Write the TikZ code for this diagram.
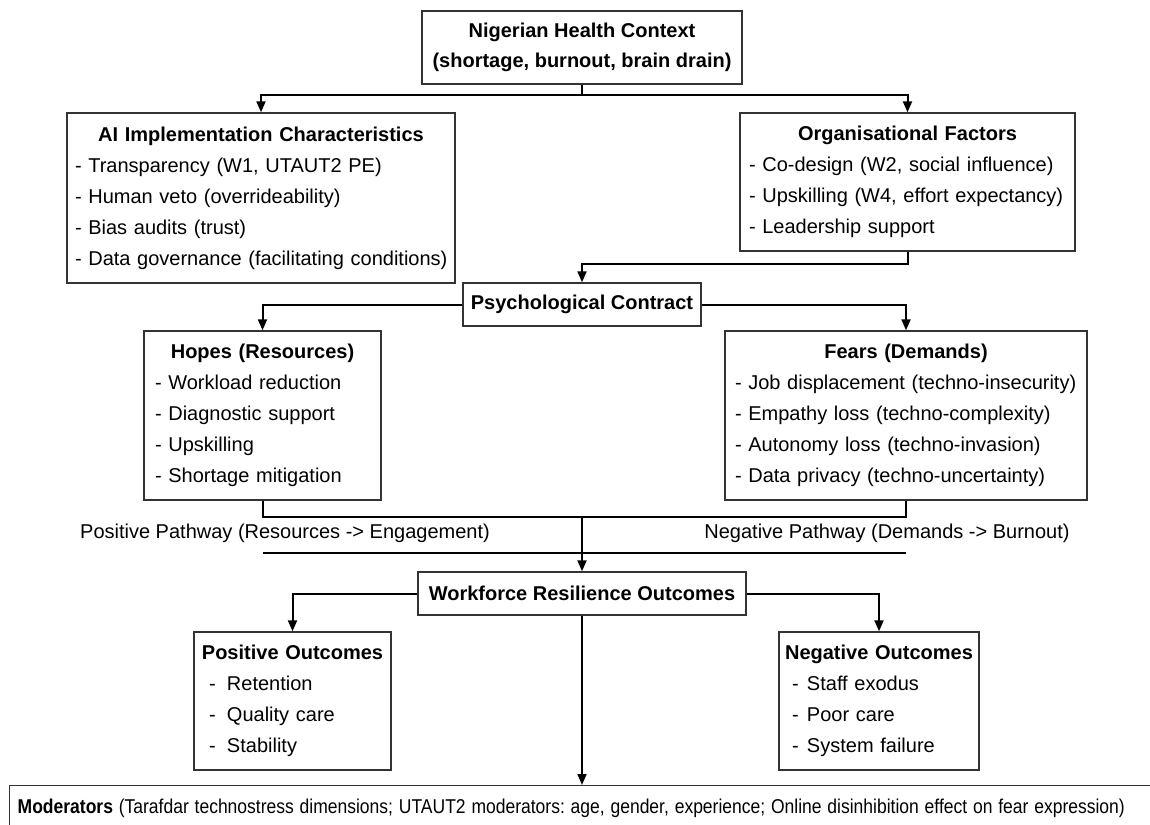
\documentclass[tikz,border=0pt]{standalone}
\usepackage{fontspec}
\setmainfont{Liberation Sans}
\usetikzlibrary{arrows.meta}
\newcommand\ttl[1]{\makebox[\hsize][c]{\textbf{#1}}\\}
\begin{document}
\frenchspacing
\begin{tikzpicture}[x=1pt,y=-1pt,
  txt/.style={font=\fontsize{20}{31}\selectfont},
  box/.style={draw=black!80, line width=1.4pt, inner sep=0pt, txt},
  lbox/.style={box, align=left},
  ln/.style={line width=2pt},
  arr/.style={line width=2pt, -{Triangle[length=11pt,width=9pt]}},
  lab/.style={txt, inner sep=0pt}]
\clip (0,0) rectangle (1150,824);
\fill[white] (0,0) rectangle (1150,824);

% boxes
\node[box, align=center, minimum width=320, minimum height=73, font=\fontsize{20}{30}\selectfont] (top) at (582,47.5)
  {\textbf{Nigerian Health Context}\\\textbf{(shortage, burnout, brain drain)}};

\node[lbox, text width=372, minimum width=388, minimum height=170] (ai) at (261,198)
  {\ttl{AI Implementation Characteristics}
   \mbox{- Transparency (W1, UTAUT2 PE)}\\
   \mbox{- Human veto (overrideability)}\\
   \mbox{- Bias audits (trust)}\\
   \mbox{- Data governance (facilitating conditions)}};

\node[lbox, text width=317, minimum width=335, minimum height=138] (org) at (907.5,182)
  {\ttl{Organisational Factors}
   \mbox{- Co-design (W2, social influence)}\\
   \mbox{- Upskilling (W4, effort expectancy)}\\
   \mbox{- Leadership support}};

\node[box, minimum width=238, minimum height=43] (psych) at (582,304.5)
  {\textbf{Psychological Contract}};

\node[lbox, text width=215, minimum width=237, minimum height=169] (hopes) at (262.5,415.5)
  {\ttl{Hopes (Resources)}
   \mbox{- Workload reduction}\\
   \mbox{- Diagnostic support}\\
   \mbox{- Upskilling}\\
   \mbox{- Shortage mitigation}};

\node[lbox, text width=342, minimum width=362, minimum height=169] (fears) at (906,415.5)
  {\ttl{Fears (Demands)}
   \mbox{- Job displacement (techno-insecurity)}\\
   \mbox{- Empathy loss (techno-complexity)}\\
   \mbox{- Autonomy loss (techno-invasion)}\\
   \mbox{- Data privacy (techno-uncertainty)}};

\node[lab] (lpos) at (285,533) {Positive Pathway (Resources -> Engagement)};
\node[lab] (lneg) at (887,533) {Negative Pathway (Demands -> Burnout)};

\node[box, minimum width=328, minimum height=43] (wf) at (582,593.5)
  {\textbf{Workforce Resilience Outcomes}};

\node[lbox, text width=167, minimum width=197, minimum height=138] (pos) at (292.5,701)
  {\ttl{Positive Outcomes}
   \makebox[18pt][l]{-}Retention\\
   \makebox[18pt][l]{-}Quality care\\
   \makebox[18pt][l]{-}Stability};

\node[lbox, text width=174, minimum width=200, minimum height=138] (neg) at (879,701)
  {\ttl{Negative Outcomes}
   \makebox[15pt][l]{-}Staff exodus\\
   \makebox[15pt][l]{-}Poor care\\
   \makebox[15pt][l]{-}System failure};

\node[box, anchor=north west, text width=1144, align=left, minimum width=1160, minimum height=45] (mod) at (9,785)
  {\scalebox{0.875}[1]{\textbf{Moderators} (Tarafdar technostress dimensions; UTAUT2 moderators: age, gender, experience; Online disinhibition effect on fear expression)}};

% connectors
\coordinate (s1) at (582,95);
\draw[ln] (top.south) -- (s1);
\draw[arr] (s1) -| (ai.north);
\draw[arr] (s1) -| (org.north);

\path (org.south) ++(0,12) coordinate (s2);
\draw[arr] (org.south) -- (s2) -| (psych.north);

\draw[arr] (psych.west) -| (hopes.north);
\draw[arr] (psych.east) -| (fears.north);

\coordinate (s3) at (582,517);
\draw[ln] (hopes.south) |- (s3);
\draw[ln] (fears.south) |- (s3);
\draw[arr] (s3) -- (wf.north);

\coordinate (pl) at (262.5,553);
\coordinate (pr) at (906,553);
\draw[ln] (pl) -- (pr);

\draw[arr] (wf.west) -| (pos.north);
\draw[arr] (wf.east) -| (neg.north);
\draw[arr] (wf.south) -- (wf.south |- mod.north);
\end{tikzpicture}
\end{document}
